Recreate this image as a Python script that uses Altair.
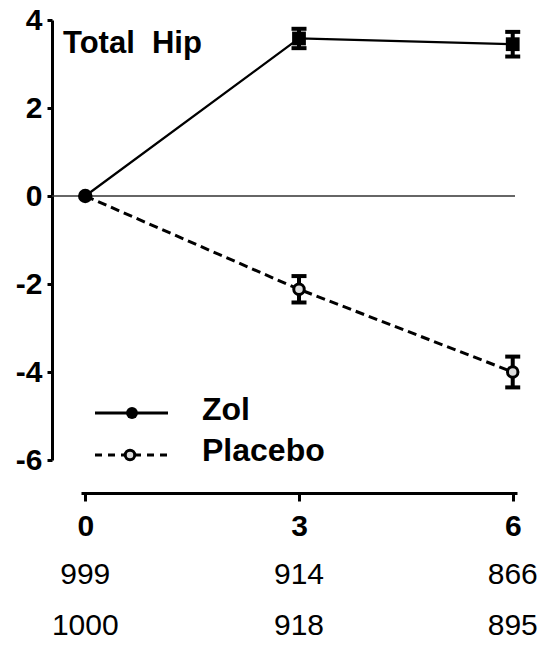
import altair as alt
import pandas as pd

# ---- data ----
months = [0, 3, 6]
series_names = ["Zol", "Placebo"]
zol_mean = [0.0, 3.58, 3.45]
zol_se = [0.0, 0.22, 0.28]
placebo_mean = [0.0, -2.12, -4.0]
placebo_se = [0.0, 0.30, 0.35]
n_zol = [999, 914, 866]
n_placebo = [1000, 918, 895]
y_ticks = [4, 2, 0, -2, -4, -6]
x_ticks = [0, 3, 6]
panel_label = "Total\u00a0 Hip"

rows = []
for name, means, ses in [("Zol", zol_mean, zol_se), ("Placebo", placebo_mean, placebo_se)]:
    for m, v, s in zip(months, means, ses):
        rows.append(dict(month=m, series=name, mean=v, lo=v - s, hi=v + s))
df = pd.DataFrame(rows)

counts = pd.DataFrame({
    "month": months * 2,
    "row": ["Zol"] * 3 + ["Placebo"] * 3,
    "n": n_zol + n_placebo,
})

W, H = 436, 440
FONT = "Liberation Sans"

xscale = alt.Scale(domain=[-0.06, 6.06], nice=False, zero=False)
yscale = alt.Scale(domain=[-6, 4], nice=False, zero=False)

x_axis = alt.Axis(values=x_ticks, title=None, offset=33, tickSize=8, tickWidth=3,
                  tickColor="black", domainColor="black", domainWidth=3, grid=False,
                  labelFont=FONT, labelFontSize=30, labelFontWeight="bold",
                  labelColor="black", labelPadding=10, labelExpr="'' + datum.value")
y_axis = alt.Axis(values=y_ticks, title=None, offset=29, tickSize=5, tickWidth=3,
                  tickColor="black", domainColor="black", domainWidth=3, grid=False,
                  labelFont=FONT, labelFontSize=30, labelFontWeight="bold",
                  labelColor="black", labelPadding=5, labelExpr="'' + datum.value")


def X(field="month"):
    return alt.X(f"{field}:Q", scale=xscale, axis=x_axis)


def Y(field="mean"):
    return alt.Y(f"{field}:Q", scale=yscale, axis=y_axis)


base = alt.Chart(df)
zol = base.transform_filter(alt.datum.series == "Zol")
pla = base.transform_filter(alt.datum.series == "Placebo")

zero_line = alt.Chart(pd.DataFrame({"v": [0]})).mark_rule(
    color="#333333", strokeWidth=1.5
).encode(y=alt.Y("v:Q", scale=yscale, axis=y_axis), x=alt.value(-29), x2=alt.value(434))

zol_line = zol.mark_line(color="black", strokeWidth=2.2).encode(x=X(), y=Y())
pla_line = pla.mark_line(color="black", strokeWidth=3, strokeDash=[9, 5]).encode(x=X(), y=Y())

err = base.transform_filter(alt.datum.month > 0)
err_rule = err.mark_rule(color="black", strokeWidth=4, opacity=1).encode(x=X(), y=Y("lo"), y2="hi:Q")
cap_lo = err.mark_tick(color="black", orient="horizontal", size=15, thickness=4, opacity=1).encode(
    x=X(), y=Y("lo"))
cap_hi = err.mark_tick(color="black", orient="horizontal", size=15, thickness=4, opacity=1).encode(
    x=X(), y=Y("hi"))

pla_pts = pla.transform_filter(alt.datum.month > 0).mark_point(
    shape="circle", filled=False, color="black", fill="#dddddd", fillOpacity=1, opacity=1,
    size=110, strokeWidth=3
).encode(x=X(), y=Y())
zol_pts0 = zol.transform_filter(alt.datum.month == 0).mark_point(
    shape="circle", filled=True, color="black", opacity=1, size=210
).encode(x=X(), y=Y())
zol_pts = zol.transform_filter(alt.datum.month > 0).mark_square(
    filled=True, color="black", opacity=1, size=190
).encode(x=X(), y=Y())

label = alt.Chart(pd.DataFrame({"t": [panel_label]})).mark_text(
    font=FONT, fontSize=31, fontWeight="bold", align="left", baseline="alphabetic", color="black"
).encode(text="t:N", x=alt.value(-18), y=alt.value(33))

# manual legend
leg = pd.DataFrame({"series": series_names})
leg_zol = alt.Chart(leg).transform_filter(alt.datum.series == "Zol")
leg_pla = alt.Chart(leg).transform_filter(alt.datum.series == "Placebo")
leg_zol_line = leg_zol.mark_rule(color="black", strokeWidth=3).encode(
    x=alt.value(14), x2=alt.value(87), y=alt.value(393))
leg_zol_pt = leg_zol.mark_point(shape="circle", filled=True, color="black", opacity=1, size=140).encode(
    x=alt.value(51), y=alt.value(393))
leg_pla_line = leg_pla.mark_rule(color="black", strokeWidth=3, strokeDash=[7, 6]).encode(
    x=alt.value(14), x2=alt.value(87), y=alt.value(435))
leg_pla_pt = leg_pla.mark_point(shape="circle", filled=False, color="black", fill="#dddddd",
                                fillOpacity=1, opacity=1, size=90, strokeWidth=3).encode(
    x=alt.value(49), y=alt.value(435))
leg_text_style = dict(font=FONT, fontSize=32, fontWeight="bold", align="left",
                      baseline="middle", color="black")
leg_zol_text = leg_zol.mark_text(**leg_text_style).encode(text="series:N", x=alt.value(121), y=alt.value(390))
leg_pla_text = leg_pla.mark_text(**leg_text_style).encode(text="series:N", x=alt.value(121), y=alt.value(431))

# counts under the x axis
cnt_zol = alt.Chart(counts).transform_filter(alt.datum.row == "Zol").mark_text(
    font=FONT, fontSize=30, align="center", baseline="middle", color="black"
).encode(x=alt.X("month:Q", scale=xscale, axis=x_axis), text="n:Q", y=alt.value(555))
cnt_pla = alt.Chart(counts).transform_filter(alt.datum.row == "Placebo").mark_text(
    font=FONT, fontSize=30, align="center", baseline="middle", color="black"
).encode(x=alt.X("month:Q", scale=xscale, axis=x_axis), text="n:Q", y=alt.value(606))

chart = alt.layer(
    zero_line, zol_line, pla_line, err_rule, cap_lo, cap_hi, pla_pts, zol_pts, zol_pts0,
    label, leg_zol_line, leg_pla_line, leg_zol_pt, leg_pla_pt, leg_zol_text, leg_pla_text,
    cnt_zol, cnt_pla
).properties(
    width=W, height=H,
    autosize=alt.AutoSizeParams(type="none"),
    padding={"left": 81, "top": 20, "right": 41, "bottom": 195},
    background="white",
).configure_view(stroke=None)

chart.save("out.html", embed_options={"renderer": "svg", "actions": False})
